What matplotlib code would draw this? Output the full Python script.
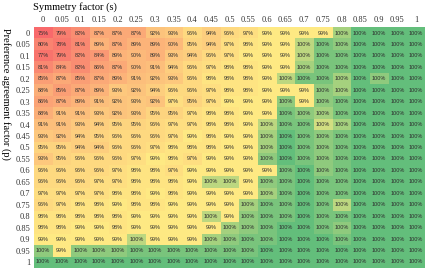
import numpy as np
import matplotlib
matplotlib.use('Agg')
import matplotlib.pyplot as plt
from matplotlib.colors import LinearSegmentedColormap, TwoSlopeNorm

s_labels = ['0', '0.05', '0.1', '0.15', '0.2', '0.25', '0.3', '0.35', '0.4', '0.45', '0.5',
            '0.55', '0.6', '0.65', '0.7', '0.75', '0.8', '0.85', '0.9', '0.95', '1']
p_labels = list(s_labels)

# agreement rate (%) per preference factor p (rows) and symmetry factor s (columns)
p_0    = [75, 79, 82, 87, 87, 87, 92, 93, 96, 94, 96, 97, 99, 99, 99, 99, 99.7, 100, 100, 100, 100]
p_005  = [80, 78, 81, 89, 87, 89, 89, 90, 95, 94, 97, 98, 99, 99, 99.6, 99.9, 99.8, 100, 100, 100, 100]
p_010  = [77, 79, 82, 84, 89, 90, 89, 93, 94, 96, 97, 99, 99, 99, 99.6, 99.9, 99.9, 100, 100, 100, 100]
p_015  = [81, 84, 82, 86, 87, 90, 91, 94, 96, 97, 98, 98, 99, 99, 99.7, 99.9, 99.9, 100, 100, 100, 100]
p_020  = [85, 87, 85, 87, 89, 91, 92, 93, 96, 98, 98, 98, 99, 99.6, 99.9, 99.9, 99.7, 100, 99.8, 100, 100]
p_025  = [88, 85, 87, 89, 93, 92, 94, 96, 96, 97, 98, 98, 99, 99, 99, 99.8, 99.7, 100, 100, 100, 100]
p_030  = [86, 87, 89, 91, 92, 93, 92, 97, 95, 97, 99, 99, 99, 99.8, 99, 99.8, 99.9, 100, 100, 100, 100]
p_035  = [88, 91, 91, 93, 92, 93, 95, 95, 97, 98, 98, 99, 99, 99.9, 99.8, 99.7, 99.9, 100, 100, 100, 100]
p_040  = [91, 91, 93, 94, 95, 95, 96, 97, 97, 98, 98, 99, 99.6, 99.9, 99.9, 99.5, 99.7, 100, 100, 100, 100]
p_045  = [93, 92, 94, 95, 96, 96, 96, 97, 99, 98, 99, 99, 99.7, 100, 99.9, 99.8, 99.9, 100, 100, 100, 100]
p_050  = [95, 95, 94, 94, 96, 96, 97, 98, 98, 98, 99, 99, 99.7, 100, 99.9, 99.8, 99.9, 100, 100, 100, 100]
p_055  = [93, 95, 96, 96, 96, 97, 99, 98, 97, 99, 99, 99, 99.8, 100, 99.9, 99.8, 99.9, 100, 100, 100, 100]
p_060  = [96, 96, 96, 96, 97, 98, 98, 97, 99, 99, 99, 99, 99, 99.9, 100, 99.8, 99.9, 100, 100, 100, 100]
p_065  = [96, 96, 96, 97, 97, 98, 98, 98, 99, 99.6, 99.6, 99, 99.8, 99.9, 100, 99.9, 99.9, 100, 100, 100, 100]
p_070  = [97, 97, 97, 97, 98, 98, 99, 98, 99, 99, 99, 99, 99.7, 99.9, 100, 99.9, 99.9, 100, 100, 100, 100]
p_075  = [96, 97, 98, 98, 99, 98, 98, 99, 99, 99, 99, 99.7, 99.9, 99.9, 100, 99.9, 99.6, 100, 100, 100, 100]
p_080  = [98, 98, 98, 98, 98, 99, 99, 99, 99, 99.6, 99, 99.8, 99.9, 99.9, 100, 99.9, 99.9, 100, 100, 100, 100]
p_085  = [98, 98, 99, 99, 98, 99, 99, 99, 99, 99, 99.7, 99.8, 99.9, 100, 100, 99.9, 99.8, 100, 100, 100, 100]
p_090  = [99, 99, 99, 99, 99, 99.6, 99, 99, 99, 99.7, 99.8, 99.9, 99.9, 100, 100, 100, 99.9, 100, 100, 100, 100]
p_095  = [99.8, 99, 99.8, 99.8, 99.8, 99.9, 99.9, 99.9, 99.9, 99.9, 99.9, 99.9, 100, 100, 100, 100, 100, 100, 100, 100, 100]
p_100  = [100, 100, 100, 100, 100, 100, 100, 100, 100, 100, 100, 100, 100, 100, 100, 100, 100, 100, 100, 100, 100]

rows = [p_0, p_005, p_010, p_015, p_020, p_025, p_030, p_035, p_040, p_045, p_050,
        p_055, p_060, p_065, p_070, p_075, p_080, p_085, p_090, p_095, p_100]
data = np.array(rows, dtype=float)

W, H = 425, 272
fig = plt.figure(figsize=(W / 100, H / 100), dpi=100)
fig.patch.set_facecolor('white')

left, right, top, bottom = 33.7, 425.4, 27.3, 267.7
ax = fig.add_axes([left / W, 1 - bottom / H, (right - left) / W, (bottom - top) / H])

cmap = LinearSegmentedColormap.from_list('xl', ['#F8696B', '#FFEB84', '#63BE7B'])
norm = TwoSlopeNorm(vmin=75, vcenter=99.3, vmax=100)
ax.imshow(data, cmap=cmap, norm=norm, aspect='auto', interpolation='nearest')

for i in range(data.shape[0]):
    for j in range(data.shape[1]):
        ax.text(j, i, f"{data[i, j]:.0f}%", ha='center', va='center', fontsize=4,
                color='#2e2e2e', family=['Liberation Sans Narrow', 'Liberation Sans'])

ax.xaxis.tick_top()
ax.set_xticks(range(len(s_labels)))
ax.set_xticklabels(s_labels, fontsize=6, family='Liberation Serif', color='#333333')
ax.set_yticks(range(len(p_labels)))
ax.set_yticklabels(p_labels, fontsize=6, family='Liberation Serif', color='#333333')
ax.tick_params(length=0, pad=2.5)
for sp in ax.spines.values():
    sp.set_visible(False)

fig.text(33 / W, 1 - 7 / H, 'Symmetry factor (s)', ha='left', va='center',
         fontsize=7.5, family='Liberation Serif')
fig.text(6 / W, 1 - 28 / H, 'Preference agreement factor (p)', rotation=270,
         ha='center', va='top', fontsize=7.5, family='Liberation Serif')

fig.savefig('out.png', dpi=100)
